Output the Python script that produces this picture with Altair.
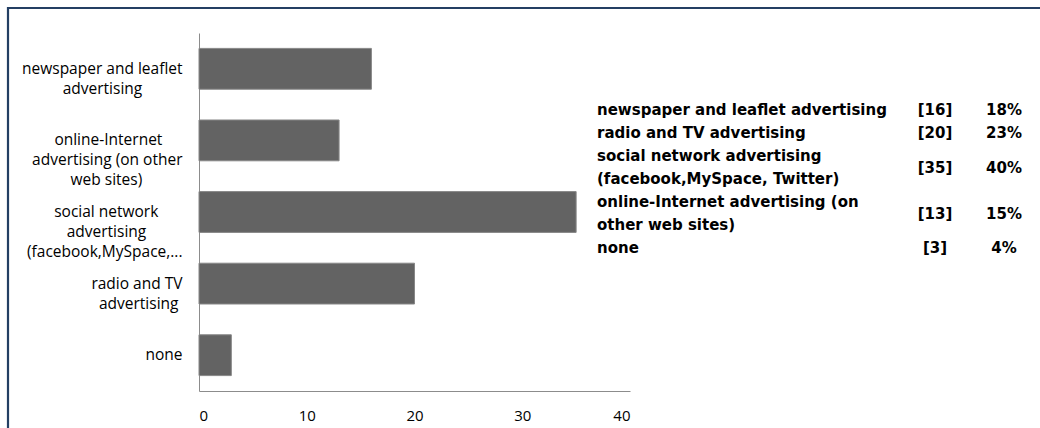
import altair as alt
import pandas as pd

# ---- data ----
axis_lines = [
    ["newspaper and leaflet", "advertising"],
    ["online-Internet", "advertising (on other", "web sites)"],
    ["social network", "advertising", "(facebook,MySpace,..."],
    ["radio and TV", "advertising"],
    ["none"],
]
counts = [16, 13, 35, 20, 3]

table_lines = [
    ["newspaper and leaflet advertising"],
    ["radio and TV advertising"],
    ["social network advertising", "(facebook,MySpace, Twitter)"],
    ["online-Internet advertising (on", "other web sites)"],
    ["none"],
]
table_counts = [16, 20, 35, 13, 3]
table_pcts = ["18%", "23%", "40%", "15%", "4%"]
x_ticks = [0, 10, 20, 30, 40]

# ---- approximate Open Sans advance widths (units of 1/2048 em) used to
#      centre the lines of each multi-line axis label ----
_W = {" ": 532, "a": 1139, "b": 1255, "c": 975, "d": 1255, "e": 1149, "f": 694,
      "g": 1122, "h": 1257, "i": 518, "k": 1075, "l": 518, "m": 1905, "n": 1257,
      "o": 1237, "p": 1255, "r": 836, "s": 977, "t": 723, "u": 1257, "v": 1026,
      "w": 1593, "x": 1073, "y": 1028, "(": 563, ")": 563, ",": 512, ".": 545,
      "-": 659, "I": 604, "M": 1804, "S": 1100, "T": 1096, "V": 1178}
NBSP = "\u00a0"
ZWSP = "\u200b"  # non-whitespace terminator so the padding is not trimmed


def _width(s):
    return sum(_W.get(ch, 1150) for ch in s)


def centred(lines):
    mw = max(_width(l) for l in lines)
    out = []
    for l in lines:
        n = int(round((mw - _width(l)) / 2 / _W[" "]))
        out.append(l + (NBSP * n + ZWSP if n > 0 else ""))
    return "|".join(out)


# ---- tables built from the lists ----
df = pd.DataFrame({"cat": [centred(l) for l in axis_lines], "count": counts})
order = list(df["cat"])

starts, mids = [], []
start = 1
for l in table_lines:
    starts.append(start)
    mids.append(start + (len(l) - 1) / 2)
    start += len(l)
tdf = pd.DataFrame({
    "lab": ["|".join(l) for l in table_lines],
    "cnt": [f"[{c}]" for c in table_counts],
    "pct": table_pcts,
    "first": starts,
    "mid": mids,
})

LABEL_FONT = "Open Sans"
LABEL_SIZE = 15.5

border = alt.Chart(pd.DataFrame({"a": [0]})).mark_rect(
    fillOpacity=0, stroke="#243f63", strokeWidth=2.2
).encode(
    x=alt.value(-191), x2=alt.value(900), y=alt.value(-25), y2=alt.value(460)
)

bars = alt.Chart(df).mark_bar(
    color="#636363", stroke="#878787", strokeWidth=1
).encode(
    x=alt.X(
        "count:Q",
        scale=alt.Scale(domain=[0, 40], nice=False),
        axis=alt.Axis(
            values=x_ticks, title=None, grid=False, ticks=False,
            domainColor="#8c8c8c", labelPadding=17, labelFont=LABEL_FONT,
            labelFontSize=15, labelColor="#000000",
        ),
    ),
    y=alt.Y(
        "cat:N", sort=order,
        scale=alt.Scale(paddingInner=0.43, paddingOuter=0.215),
        axis=alt.Axis(
            title=None, ticks=False, grid=False, domainColor="#8c8c8c",
            labelExpr="split(datum.label, '|')", labelAlign="right",
            labelBaseline="middle", labelPadding=17, labelLineHeight=20,
            labelFont=LABEL_FONT, labelFontSize=LABEL_SIZE, labelColor="#000000",
            labelLimit=400,
        ),
    ),
)

SCALE = alt.Scale(domain=[-2.348, 13.217], reverse=True, nice=False, zero=False)
tbase = alt.Chart(tdf).transform_calculate(lines="split(datum.lab, '|')")
tstyle = dict(baseline="middle", font="DejaVu Sans", fontWeight="bold",
              fontSize=15, lineHeight=23, color="#000000")
t_lab = tbase.mark_text(align="left", **tstyle).encode(
    x=alt.value(398), y=alt.Y("first:Q", scale=SCALE, axis=None), text="lines:N")
t_cnt = tbase.mark_text(align="center", **tstyle).encode(
    x=alt.value(736), y=alt.Y("mid:Q", scale=SCALE, axis=None), text="cnt:N")
t_pct = tbase.mark_text(align="center", **tstyle).encode(
    x=alt.value(805), y=alt.Y("mid:Q", scale=SCALE, axis=None), text="pct:N")

chart = alt.layer(border, bars, t_lab, t_cnt, t_pct).resolve_scale(
    y="independent"
).properties(
    width=431, height=358,
    padding={"left": 199, "top": 33, "right": 410, "bottom": 37},
    autosize=alt.AutoSizeParams(type="none"),
    background="#ffffff",
).configure_view(stroke=None)

chart.save("out.html", embed_options={"renderer": "svg", "actions": False})
